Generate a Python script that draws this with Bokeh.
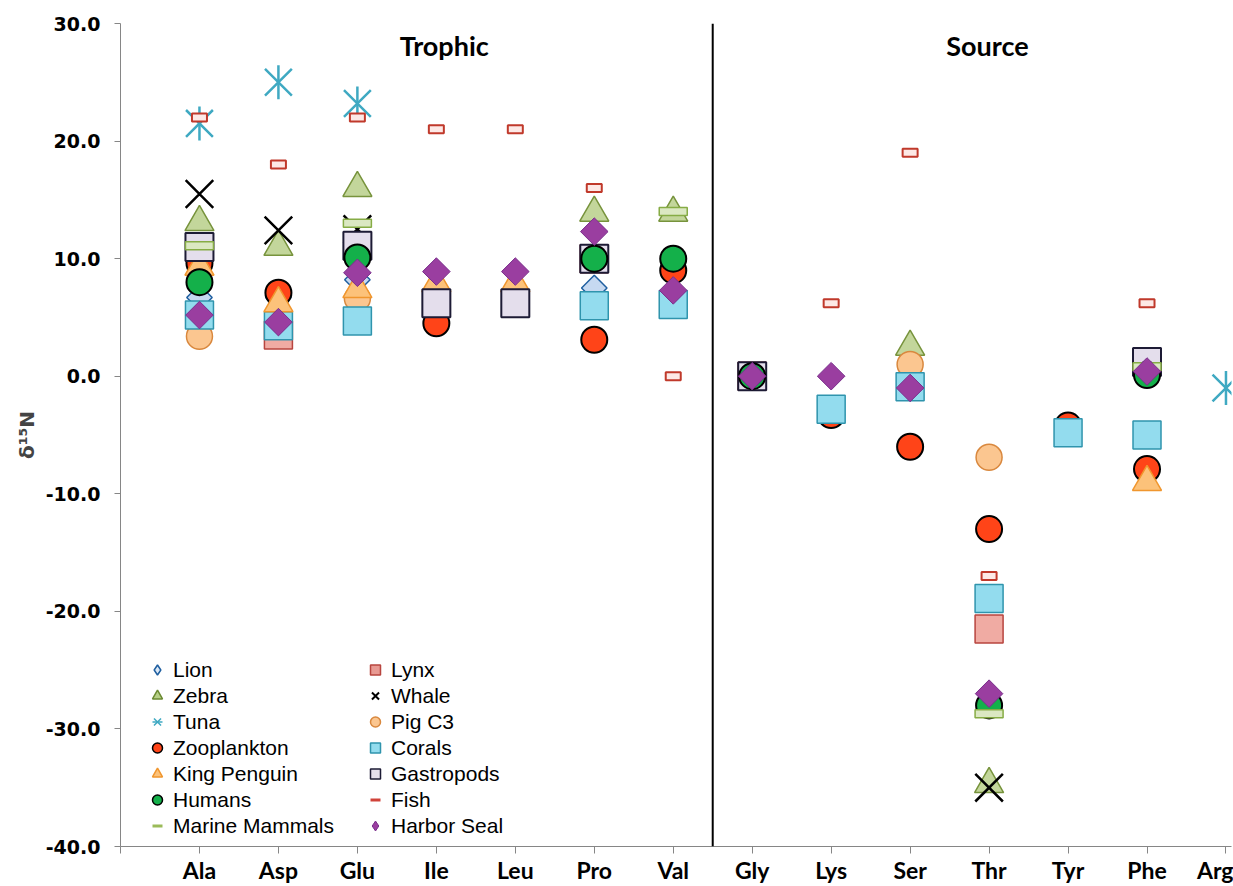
import math
from bokeh.plotting import figure
from bokeh.models import (FixedTicker, NumeralTickFormatter, Span, Label, Legend,
                          LegendItem, Range1d)
from bokeh.embed import file_html
from bokeh.resources import INLINE

nan = float("nan")

# ---------------- data ----------------
amino_acids = ["Ala", "Asp", "Glu", "Ile", "Leu", "Pro", "Val",
               "Gly", "Lys", "Ser", "Thr", "Tyr", "Phe", "Arg"]
y_ticks = [-40, -30, -20, -10, 0, 10, 20, 30]
groups = ["Trophic", "Source"]

lion           = [6.7, 6.7, 8.2, nan, nan, 7.5, nan, 0.0, nan, nan, nan, nan, nan, nan]
lynx           = [nan, 3.5, nan, nan, nan, 10.0, nan, 0.0, nan, nan, -21.5, nan, nan, nan]
zebra          = [13.1, 11.0, 16.0, nan, nan, 13.9, 13.9, nan, nan, 2.5, -34.7, nan, nan, nan]
whale          = [15.5, 12.4, 12.5, nan, nan, nan, nan, 0.0, nan, nan, -35.0, nan, nan, nan]
tuna           = [21.5, 25.0, 23.2, nan, nan, nan, nan, nan, nan, nan, nan, nan, nan, -1.0]
pig_c3         = [3.4, nan, 6.6, nan, nan, nan, nan, nan, nan, 1.0, -6.9, nan, nan, nan]
zooplankton    = [9.6, 7.1, nan, 4.5, nan, 3.1, 9.0, nan, -3.3, -6.0, -13.0, -4.2, -7.9, nan]
corals         = [5.2, 4.3, 4.7, nan, nan, 6.0, 6.1, nan, -2.8, -0.9, -18.9, -4.8, -5.0, nan]
king_penguin   = [9.3, 6.2, 7.4, 7.9, 7.9, nan, nan, nan, nan, nan, nan, nan, -9.0, nan]
gastropods     = [11.0, nan, 11.1, 6.2, 6.2, 10.0, nan, 0.0, nan, nan, nan, nan, 1.2, nan]
humans         = [8.0, nan, 10.1, nan, nan, 10.0, 10.0, 0.0, nan, nan, -28.0, nan, 0.1, nan]
fish           = [22.0, 18.0, 22.0, 21.0, 21.0, 16.0, 0.0, nan, 6.2, 19.0, -17.0, nan, 6.2, nan]
marine_mammals = [11.1, nan, 13.0, nan, nan, nan, 14.0, nan, nan, nan, -28.7, nan, 0.8, nan]
harbor_seal    = [5.2, 4.6, 8.8, 8.9, 8.9, 12.3, 7.3, 0.0, 0.0, -1.0, -27.0, nan, 0.4, nan]

xs = list(range(1, len(amino_acids) + 1))

# ---------------- figure ----------------
p = figure(width=1233, height=886, x_range=Range1d(0, 14.07), y_range=Range1d(-40, 30),
           output_backend="svg", toolbar_location=None,
           min_border_left=120, min_border_right=2, min_border_top=23, min_border_bottom=38)
p.outline_line_color = None
p.xgrid.visible = False
p.ygrid.visible = False
p.background_fill_color = "white"
p.border_fill_color = "white"

axis_col = "#868686"
p.xaxis.axis_label = None
p.xaxis.ticker = FixedTicker(ticks=[0] + xs)
p.xaxis.major_label_overrides = {0: "", **{x: n for x, n in zip(xs, amino_acids)}}
p.xaxis.axis_line_color = axis_col
p.xaxis.major_tick_line_color = axis_col
p.xaxis.major_tick_out = 7
p.xaxis.major_tick_in = 0
p.xaxis.minor_tick_line_color = None
p.xaxis.major_label_text_font = "Lato"
p.xaxis.major_label_text_font_style = "bold"
p.xaxis.major_label_text_font_size = "23px"
p.xaxis.major_label_text_color = "black"
p.xaxis.major_label_standoff = 2

p.yaxis.ticker = FixedTicker(ticks=y_ticks)
p.yaxis.formatter = NumeralTickFormatter(format="0.0")
p.yaxis.axis_line_color = axis_col
p.yaxis.major_tick_line_color = axis_col
p.yaxis.major_tick_out = 6
p.yaxis.major_tick_in = 0
p.yaxis.minor_tick_line_color = None
p.yaxis.major_label_text_font = "DejaVu Sans"
p.yaxis.major_label_text_font_style = "bold"
p.yaxis.major_label_text_font_size = "19px"
p.yaxis.major_label_text_color = "black"
p.yaxis.major_label_standoff = 14
p.yaxis.axis_label = "δ¹⁵N"
p.yaxis.axis_label_text_font = "DejaVu Sans"
p.yaxis.axis_label_text_font_style = "bold"
p.yaxis.axis_label_text_font_size = "20px"
p.yaxis.axis_label_standoff = 4

p.add_layout(Span(location=7.5, dimension="height", line_color="black", line_width=2))

# ---------------- series (drawn in Excel order) ----------------
p.scatter(xs, lion, marker="square", angle=math.pi / 4, size=18,
          fill_color="#c6d9f1", line_color="#1f5fa0", line_width=1.5)
p.scatter(xs, lynx, marker="square", size=28,
          fill_color="#f0aba3", line_color="#b8453f", line_width=1.5)
p.scatter(xs, zebra, marker="triangle", size=29,
          fill_color="#c3d69b", line_color="#77933c", line_width=1.5)
p.scatter(xs, whale, marker="x", size=39, line_color="black", line_width=2.5)
p.scatter(xs, tuna, marker="x", size=38, line_color="#3fa9c2", line_width=2.5)
p.scatter(xs, tuna, marker="dash", angle=math.pi / 2, size=34, line_color="#3fa9c2", line_width=2.5)
p.scatter(xs, pig_c3, marker="circle", size=26,
          fill_color="#fbc690", line_color="#d9883e", line_width=1.5)
p.scatter(xs, zooplankton, marker="circle", size=26,
          fill_color="#ff4418", line_color="black", line_width=2)
p.scatter(xs, corals, marker="square", size=28,
          fill_color="#93dcee", line_color="#2f94ad", line_width=1.5)
p.scatter(xs, king_penguin, marker="triangle", size=29,
          fill_color="#fcc27a", line_color="#f0962e", line_width=1.5)
p.scatter(xs, gastropods, marker="square", size=28,
          fill_color="#e4deec", line_color="#1d1b35", line_width=2)
p.scatter(xs, humans, marker="circle", size=26,
          fill_color="#14b04a", line_color="black", line_width=2)
p.rect(xs, fish, width=15, height=8, width_units="screen", height_units="screen",
       fill_color="#fde9e6", line_color="#c0392b", line_width=2)
p.rect(xs, marine_mammals, width=28, height=8, width_units="screen", height_units="screen",
       fill_color="#dbe8c2", line_color="#86ac45", line_width=1.5)
p.scatter(xs, harbor_seal, marker="square", angle=math.pi / 4, size=19.5,
          fill_color="#9a3ea0", line_color="#7a2f8c", line_width=1)

# ---------------- legend (small proxy icons) ----------------
def proxy(**kw):
    return p.scatter([nan], [nan], **kw)

items = {
    "Lion": [proxy(marker="diamond", fill_color="#dbe8f6", line_color="#1f5fa0", line_width=1.5)],
    "Lynx": [proxy(marker="square", fill_color="#e89a93", line_color="#b8453f", line_width=1.5)],
    "Zebra": [proxy(marker="triangle", fill_color="#b6cf86", line_color="#6b8a32", line_width=1.5)],
    "Whale": [proxy(marker="x", line_color="black", line_width=2)],
    "Tuna": [proxy(marker="x", line_color="#3fa9c2", line_width=1.5),
             proxy(marker="dash", angle=math.pi / 2, line_color="#3fa9c2", line_width=1.5)],
    "Pig C3": [proxy(marker="circle", fill_color="#fbc690", line_color="#d9883e", line_width=1.5)],
    "Zooplankton": [proxy(marker="circle", fill_color="#ff4418", line_color="black", line_width=1.5)],
    "Corals": [proxy(marker="square", fill_color="#93dcee", line_color="#2f94ad", line_width=1.5)],
    "King Penguin": [proxy(marker="triangle", fill_color="#fcc27a", line_color="#f0962e", line_width=1.5)],
    "Gastropods": [proxy(marker="square", fill_color="#e4deec", line_color="#1d1b35", line_width=1.5)],
    "Humans": [proxy(marker="circle", fill_color="#14b04a", line_color="black", line_width=1.5)],
    "Fish": [proxy(marker="dash", line_color="#d0433a", line_width=3)],
    "Marine Mammals": [proxy(marker="dash", line_color="#9bbb59", line_width=3)],
    "Harbor Seal": [proxy(marker="diamond", fill_color="#9a3ea0", line_color="#7a2f8c", line_width=1)],
}
names = list(items.keys())
left_names = names[0::2]
right_names = names[1::2]

def make_legend(nm, loc):
    lg = Legend(items=[LegendItem(label=n, renderers=items[n]) for n in nm],
                location=loc, orientation="vertical")
    lg.background_fill_alpha = 0
    lg.border_line_color = None
    lg.padding = 0
    lg.margin = 0
    lg.spacing = 1
    lg.glyph_width = 26
    lg.glyph_height = 25
    lg.label_height = 25
    lg.label_standoff = 3
    lg.label_text_font = "Liberation Sans"
    lg.label_text_font_size = "21px"
    lg.label_text_color = "black"
    return lg

p.add_layout(make_legend(left_names, (24, 8)))
p.add_layout(make_legend(right_names, (242, 8)))

# ---------------- group titles ----------------
for g, gx in zip(groups, [4.1, 10.98]):
    p.add_layout(Label(x=gx, y=28.1, text=g, text_align="center", text_baseline="middle",
                       text_font="Lato", text_font_style="bold", text_font_size="27px",
                       text_color="black"))

open("out.html", "w").write(file_html(p, INLINE))
